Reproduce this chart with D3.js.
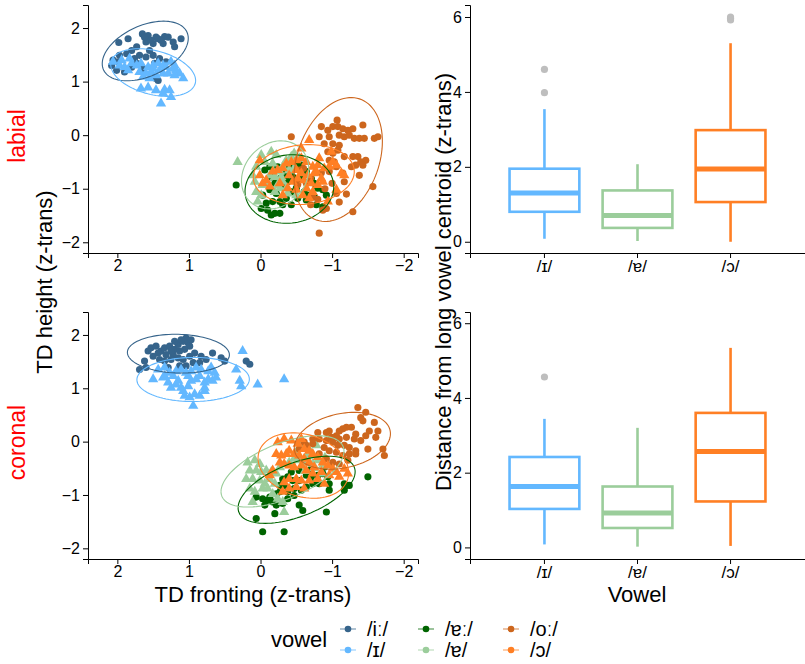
<!DOCTYPE html>
<html>
<head>
<meta charset="utf-8">
<script src="https://cdnjs.cloudflare.com/ajax/libs/d3/7.8.5/d3.min.js"></script>
<style>
  body { margin: 0; background: #fff; }
  svg { font-family: "Liberation Sans", Arial, Helvetica, sans-serif; }
  .axis path, .axis line { stroke: #000; stroke-width: 1; }
</style>
</head>
<body>
<div id="chart"></div>
<script>
// vowel categories (long / short pairs)
var vowels = ["/iː/", "/ɪ/", "/ɐː/", "/ɐ/", "/oː/", "/ɔ/"];
var vowelColors = ["#36648B", "#63B8FF", "#006400", "#9BCD9B", "#CD661D", "#FF7F24"];
var shortVowels = ["/ɪ/", "/ɐ/", "/ɔ/"];
var shortColors = ["#63B8FF", "#9BCD9B", "#FF7F24"];
var places = ["labial", "coronal"];

// TD fronting / height per token, labial context
var labial_iL = [[1.98,1.73],[1.85,1.80],[1.65,1.89],[1.57,1.86],[1.46,1.83],[1.34,1.84],[1.22,1.74],[1.11,1.80],[1.36,1.71],[1.50,1.71],[1.60,1.74],[1.73,1.65],[1.80,1.58],[1.87,1.52],[1.97,1.49],[2.06,1.40],[2.08,1.30],[2.01,1.21],[1.90,1.18],[1.80,1.27],[1.69,1.49],[1.60,1.46],[1.50,1.49],[1.41,1.43],[1.32,1.37],[1.73,1.34],[1.64,1.24],[1.46,1.06],[1.43,1.02],[1.99,1.37],[1.76,1.43],[1.55,1.58],[1.20,1.65],[1.43,1.80],[1.39,1.77],[1.29,1.83],[1.62,1.83],[1.53,1.77],[1.48,1.34]];
var labial_iS = [[2.06,1.37],[1.97,1.30],[1.90,1.27],[1.85,1.21],[1.80,1.34],[1.73,1.30],[1.67,1.34],[1.57,1.27],[1.50,1.30],[1.43,1.34],[1.36,1.30],[1.32,1.27],[1.25,1.37],[1.22,1.24],[1.18,1.21],[1.13,1.15],[1.08,1.06],[1.64,1.09],[1.55,1.06],[1.46,1.12],[1.36,1.15],[1.29,1.15],[1.67,0.87],[1.57,0.89],[1.46,0.84],[1.34,0.85],[1.27,0.84],[1.25,0.71],[1.36,0.78],[1.39,0.59],[1.94,1.40],[1.83,1.43],[1.69,1.18],[1.53,1.18],[1.41,1.21],[1.20,1.30],[1.20,1.12],[1.60,1.15],[1.50,1.24]];
var labial_aL = [[0.34,-0.93],[-0.06,-0.65],[-0.13,-0.59],[-0.24,-0.59],[-0.33,-0.65],[-0.40,-0.56],[-0.50,-0.53],[-0.57,-0.56],[-0.64,-0.68],[-0.71,-0.81],[-0.75,-0.90],[-0.80,-0.99],[-0.87,-1.02],[-0.92,-1.12],[-0.75,-1.15],[-0.68,-1.12],[-0.61,-1.06],[-0.50,-0.99],[-0.43,-1.06],[-0.36,-1.18],[-0.27,-1.24],[-0.17,-1.24],[-0.08,-1.27],[-0.10,-1.40],[-0.15,-1.49],[-0.20,-1.46],[-0.27,-1.46],[-0.01,-1.37],[-0.03,-1.12],[-0.13,-1.02],[-0.22,-1.09],[-0.31,-0.93],[-0.38,-0.87],[-0.50,-0.87],[-0.57,-0.81],[-0.45,-0.78],[-0.36,-0.78],[-0.27,-0.81],[-0.20,-0.90],[-0.15,-0.78],[-0.87,-1.34],[-0.78,-1.30],[-0.64,-1.21],[-0.52,-1.18],[-0.43,-1.30],[-0.31,-1.30]];
var labial_aS = [[0.32,-0.50],[-0.01,-0.37],[-0.15,-0.31],[-0.22,-0.37],[-0.06,-0.50],[0.06,-0.59],[0.11,-0.75],[0.08,-0.87],[0.06,-1.06],[-0.01,-1.12],[0.04,-1.24],[-0.13,-0.75],[-0.20,-0.78],[-0.27,-0.68],[-0.29,-0.78],[-0.31,-0.87],[-0.36,-0.99],[-0.27,-0.99],[-0.20,-1.06],[-0.24,-0.93],[-0.40,-0.65],[-0.47,-0.62],[-0.54,-0.43],[-0.43,-0.40],[-0.36,-0.47],[-0.47,-0.34],[-0.10,-0.90],[-0.03,-0.93],[-0.31,-0.59],[-0.38,-1.09],[-0.50,-1.12],[-0.17,-0.53]];
var labial_oL = [[-1.07,0.28],[-1.01,0.16],[-1.08,0.16],[-1.15,0.12],[-1.22,0.09],[-1.29,0.12],[-0.85,0.16],[-0.94,0.09],[-1.10,0.0],[-1.17,-0.03],[-1.24,0.0],[-1.31,-0.06],[-1.38,-0.06],[-1.45,-0.06],[-1.43,0.19],[-1.59,-0.06],[-1.64,-0.03],[-0.43,-0.03],[-0.82,-0.03],[-0.96,-0.03],[-0.89,-0.16],[-1.01,-0.16],[-1.10,-0.19],[-0.94,-0.31],[-1.01,-0.34],[-1.08,-0.28],[-0.96,-0.47],[-1.03,-0.50],[-1.17,-0.40],[-1.29,-0.40],[-1.36,-0.40],[-1.40,-0.50],[-1.47,-0.47],[-1.43,-0.56],[-1.33,-0.56],[-1.27,-0.59],[-1.15,-0.71],[-0.96,-0.68],[-1.06,-0.59],[-1.38,-0.75],[-1.17,-0.87],[-1.57,-0.96],[-1.06,-1.09],[-0.87,-1.40],[-1.29,-1.43],[-0.82,-1.83],[-0.92,-1.37],[-0.73,-1.15],[-0.64,-0.90],[-0.54,-0.65],[-0.70,-0.80],[-0.90,-1.00],[-0.60,-0.62],[-1.00,-0.90],[-0.80,-1.20],[-0.52,-0.92],[-1.20,-1.10],[-0.70,-1.30],[-0.85,-0.70],[-1.10,-1.25]];
var labial_oS = [[0.01,-0.47],[-0.57,-0.25],[-0.68,-0.09],[-0.82,-0.43],[-0.99,-0.31],[-1.01,-0.50],[-1.06,-0.56],[-1.13,-0.71],[-1.17,-0.75],[-0.96,-0.59],[-0.89,-0.62],[-0.80,-0.56],[-0.73,-0.59],[-0.64,-0.50],[-0.57,-0.43],[-0.50,-0.47],[-0.43,-0.50],[-0.36,-0.53],[-0.31,-0.62],[-0.24,-0.65],[-0.17,-0.68],[-0.57,-0.71],[-0.66,-0.75],[-0.75,-0.71],[-0.85,-0.81],[-0.80,-0.93],[-0.71,-0.90],[-0.61,-0.84],[-0.52,-0.81],[-0.45,-0.87],[-0.38,-0.99],[-0.50,-1.02],[-0.59,-1.12],[-0.31,-1.12],[-0.13,-0.96],[-0.03,-0.90],[0.01,-0.75],[-0.08,-0.84],[-1.06,-1.02],[-0.94,-1.24],[-0.68,-1.18],[-0.78,-0.68],[-0.87,-0.87],[-0.50,-0.65],[-0.40,-0.75],[-0.27,-0.90],[-0.64,-0.99],[-0.73,-1.06]];

// coronal context
var coronal_iL = [[1.69,1.35],[1.62,1.51],[1.60,1.39],[1.53,1.76],[1.46,1.79],[1.39,1.70],[1.34,1.76],[1.27,1.79],[1.20,1.73],[1.15,1.82],[1.08,1.88],[1.04,1.94],[1.01,1.85],[0.99,1.79],[1.06,1.73],[1.13,1.70],[1.22,1.63],[1.32,1.63],[1.43,1.66],[1.50,1.60],[1.41,1.54],[1.34,1.51],[1.25,1.54],[1.15,1.57],[1.08,1.54],[0.99,1.60],[0.92,1.66],[0.83,1.60],[0.76,1.54],[0.67,1.66],[0.55,1.57],[0.50,1.51],[0.94,1.48],[0.85,1.48],[1.04,1.42],[1.13,1.42],[1.29,1.39],[0.20,1.51],[0.15,1.45],[1.20,1.88],[1.11,1.91],[1.25,1.70],[1.57,1.70],[0.97,1.91]];
var coronal_iS = [[1.43,1.35],[1.34,1.39],[1.27,1.29],[1.18,1.32],[1.11,1.35],[1.04,1.29],[0.97,1.32],[0.90,1.39],[0.83,1.35],[0.73,1.32],[0.69,1.39],[0.64,1.29],[1.50,1.17],[1.36,1.20],[1.29,1.11],[1.25,1.01],[1.18,1.07],[1.11,1.01],[1.01,1.04],[0.97,1.14],[0.90,1.17],[0.78,1.11],[0.73,1.17],[0.67,1.14],[0.62,1.20],[1.06,0.86],[0.99,0.83],[0.92,0.89],[0.85,0.86],[0.78,0.95],[1.08,0.95],[0.94,0.67],[0.34,1.35],[0.29,1.14],[0.27,1.04],[0.25,1.70],[0.04,1.07],[-0.33,1.17],[0.78,1.01],[1.15,1.14],[1.34,1.23],[0.85,1.23],[1.01,1.23],[1.22,1.23]];
var coronal_aL = [[0.06,-1.04],[-0.03,-1.07],[-0.10,-1.10],[-0.17,-1.13],[-0.22,-1.19],[-0.31,-1.16],[-0.38,-1.07],[-0.47,-1.01],[-0.54,-1.19],[-0.59,-1.29],[-0.27,-0.94],[-0.33,-0.82],[-0.38,-0.66],[-0.43,-0.57],[-0.54,-0.54],[-0.64,-0.63],[-0.71,-0.66],[-0.80,-0.63],[-0.87,-0.60],[-0.94,-0.66],[-0.96,-0.79],[-0.96,-0.91],[-0.92,-1.32],[-1.17,-0.79],[-1.17,-0.91],[-1.24,-0.82],[-1.50,-0.66],[-0.82,-0.79],[-0.73,-0.79],[-0.64,-0.85],[-0.57,-0.91],[-0.47,-0.88],[-0.38,-0.94],[-0.31,-0.70],[-0.27,-0.82],[-0.22,-0.98],[-0.03,-1.69],[-0.33,-1.69],[0.06,-1.44],[-0.20,-1.35],[-0.13,-1.04],[-0.06,-1.19],[-0.45,-0.73],[-0.54,-0.73],[-0.71,-0.51],[-0.89,-0.48]];
var coronal_aS = [[0.18,-0.39],[0.08,-0.35],[0.01,-0.42],[0.15,-0.54],[0.06,-0.54],[-0.01,-0.57],[-0.08,-0.54],[-0.15,-0.57],[-0.22,-0.60],[0.20,-0.70],[0.11,-0.70],[0.01,-0.73],[-0.06,-0.79],[0.15,-0.88],[0.08,-0.94],[-0.03,-0.88],[-0.17,-0.98],[-0.24,-1.07],[-0.31,-1.13],[-0.33,-1.32],[0.11,-1.13],[-0.13,-0.70],[-0.27,-0.48],[-0.54,-0.35],[-0.64,-0.29],[-0.73,-0.42],[-0.80,-0.35],[-0.87,-0.45],[-0.66,-0.11],[-0.57,-0.07],[-0.78,-0.07],[-0.40,-0.39],[-0.47,-0.32],[-0.10,-0.88],[-0.20,-0.79],[-0.60,-0.40],[-0.75,-0.50],[-0.90,-0.30],[-0.50,-0.20],[-0.70,-0.25],[-0.85,-0.60],[-0.95,-0.45],[-0.62,-0.55]];
var coronal_oL = [[-1.36,0.64],[-1.47,0.55],[-1.40,0.45],[-1.43,0.39],[-1.59,0.36],[-1.52,0.20],[-1.64,0.20],[-1.61,0.08],[-1.47,0.11],[-1.33,0.14],[-1.27,0.27],[-1.20,0.27],[-1.15,0.24],[-1.10,0.20],[-1.06,0.11],[-0.99,0.08],[-0.96,0.20],[-0.92,0.17],[-1.10,0.05],[-1.20,0.08],[-1.31,0.05],[-1.40,0.02],[-1.50,-0.14],[-1.33,-0.17],[-1.24,-0.11],[-1.17,-0.07],[-1.08,-0.07],[-1.01,-0.01],[-0.92,0.02],[-0.82,0.05],[-0.89,-0.11],[-0.96,-0.17],[-1.06,-0.20],[-1.15,-0.26],[-1.24,-0.23],[-1.33,-0.23],[-1.71,-0.14],[-1.73,-0.26],[-0.73,-0.04],[-0.64,-0.07],[-0.54,-0.14],[-0.82,-0.23],[-0.92,-0.32],[-1.01,-0.39],[-1.10,-0.42],[-1.22,-0.35],[-0.73,0.05],[-0.80,0.17],[-0.61,-0.01]];
var coronal_oS = [[-0.24,-0.01],[-0.33,0.05],[-0.43,0.02],[-0.52,-0.04],[-0.57,0.05],[-0.61,-0.14],[-0.68,-0.17],[-0.73,-0.23],[-0.80,-0.29],[-0.87,-0.39],[-0.94,-0.45],[-1.01,-0.51],[-1.06,-0.57],[-0.96,-0.63],[-0.85,-0.57],[-0.75,-0.48],[-0.68,-0.39],[-0.61,-0.32],[-0.54,-0.26],[-0.47,-0.23],[-0.40,-0.17],[-0.36,-0.23],[-0.29,-0.26],[-0.22,-0.23],[-0.27,-0.39],[-0.33,-0.42],[-0.40,-0.45],[-0.47,-0.48],[-0.57,-0.45],[-0.64,-0.54],[-0.73,-0.60],[-0.80,-0.70],[-0.68,-0.73],[-0.57,-0.73],[-0.50,-0.70],[-0.40,-0.70],[-0.33,-0.76],[-0.40,-0.88],[-0.31,-0.94],[-0.50,-0.85],[-0.17,-0.54],[-0.13,-0.63],[-1.17,-0.51],[-1.22,-0.60],[-1.10,-0.66],[-0.89,-0.79],[-0.61,-0.88]];

// distance from long vowel centroid: [lower whisker, q1, median, q3, upper whisker]
var labialBox = [[0.08,0.80,1.30,1.95,3.54],[0.02,0.37,0.70,1.37,2.07],[0.0,1.06,1.94,2.98,5.30]];
var labialOut = [[3.98,4.60],[],[5.92,5.96,6.0]];
var coronalBox = [[0.08,1.03,1.63,2.42,3.44],[0.02,0.52,0.92,1.63,3.20],[0.04,1.23,2.57,3.60,5.34]];
var coronalOut = [[4.56],[],[]];

var xTicks = [2, 1, 0, -1, -2];
var yTicks = [-2, -1, 0, 1, 2];
var distTicks = [0, 2, 4, 6];

var scatterData = {
  labial: [labial_iL, labial_iS, labial_aL, labial_aS, labial_oL, labial_oS],
  coronal: [coronal_iL, coronal_iS, coronal_aL, coronal_aS, coronal_oL, coronal_oS]
};
var boxData = { labial: [labialBox, labialOut], coronal: [coronalBox, coronalOut] };

var W = 805, H = 664;
var FONT = '"Liberation Sans", Arial, Helvetica, sans-serif';
var svg = d3.select("#chart").append("svg").attr("width", W).attr("height", H);

var panelRows = [{top: 5, bottom: 253}, {top: 312, bottom: 559}];
var fmt = function(d){ return d < 0 ? "\u2212" + Math.abs(d) : d; };

function styleAxis(sel, size){
  sel.attr("font-family", FONT);
  sel.selectAll("text").attr("font-size", size || 16).attr("fill", "#000");
}

// robust t scatter (like MASS::cov.trob, nu = 5)
function covTrob(pts){
  var n = pts.length, nu = 5, p = 2;
  var w = pts.map(function(){ return 1; });
  var loc = [d3.mean(pts, function(d){ return d[0]; }), d3.mean(pts, function(d){ return d[1]; })];
  var X;
  for (var it = 0; it < 50; it++){
    var w0 = w.slice();
    X = pts.map(function(d){ return [d[0]-loc[0], d[1]-loc[1]]; });
    var sw = d3.sum(w), a = 0, b = 0, c = 0;
    X.forEach(function(v, i){ a += w[i]*v[0]*v[0]; b += w[i]*v[0]*v[1]; c += w[i]*v[1]*v[1]; });
    a /= sw; b /= sw; c /= sw;
    var det = a*c - b*b;
    w = X.map(function(v){
      var Q = (c*v[0]*v[0] - 2*b*v[0]*v[1] + a*v[1]*v[1]) / det;
      return (nu + p) / (nu + Q);
    });
    var sw2 = d3.sum(w);
    loc = [d3.sum(pts, function(d, i){ return w[i]*d[0]; })/sw2, d3.sum(pts, function(d, i){ return w[i]*d[1]; })/sw2];
    var done = w.every(function(v, i){ return Math.abs(v - w0[i]) < 1e-4; });
    if (done) break;
  }
  var sxx = 0, sxy = 0, syy = 0;
  X.forEach(function(v, i){ sxx += w[i]*v[0]*v[0]; sxy += w[i]*v[0]*v[1]; syy += w[i]*v[1]*v[1]; });
  return {center: loc, cov: [sxx/n, sxy/n, syy/n]};
}

// stat_ellipse style: 95% ellipse, radius from F(2, n-1)
function ellipse(pts){
  var n = pts.length, est = covTrob(pts);
  var mx = est.center[0], my = est.center[1];
  var sxx = est.cov[0], sxy = est.cov[1], syy = est.cov[2];
  var df = n - 1;
  var q = df/2 * (Math.pow(0.05, -2/df) - 1);
  var r = Math.sqrt(2*q);
  var a = Math.sqrt(sxx), b = sxy/a, c = Math.sqrt(syy - b*b);
  return d3.range(0, 101).map(function(i){
    var t = i/100*2*Math.PI;
    return [mx + r*a*Math.cos(t), my + r*(b*Math.cos(t) + c*Math.sin(t))];
  });
}

places.forEach(function(place, pi){
  var row = panelRows[pi];

  // scatter panel
  var x = d3.scaleLinear().domain([2.41, -2.2]).range([88, 418]);
  var y = d3.scaleLinear().domain([-2.2, 2.43]).range([row.bottom, row.top]);

  var g = svg.append("g");
  var groups = scatterData[place];
  groups.forEach(function(pts, vi){
    var isShort = vi % 2 === 1;
    var sym = d3.symbol().type(isShort ? d3.symbolTriangle : d3.symbolCircle).size(isShort ? 46 : 40);
    g.selectAll(".pt" + vi).data(pts).enter().append("path")
      .attr("d", sym)
      .attr("transform", function(d){ return "translate(" + x(d[0]) + "," + y(d[1]) + ")"; })
      .attr("fill", vowelColors[vi]);
  });
  var line = d3.line().x(function(d){ return x(d[0]); }).y(function(d){ return y(d[1]); });
  groups.forEach(function(pts, vi){
    g.append("path").attr("d", line(ellipse(pts)))
      .attr("fill", "none").attr("stroke", vowelColors[vi]).attr("stroke-width", 1.1);
  });

  svg.append("g").attr("class", "axis")
    .attr("transform", "translate(0," + row.bottom + ")")
    .call(d3.axisBottom(x).tickValues(xTicks).tickFormat(fmt).tickSizeOuter(0).tickSize(5).tickPadding(2))
    .call(styleAxis);
  svg.append("g").attr("class", "axis")
    .attr("transform", "translate(88,0)")
    .call(d3.axisLeft(y).tickValues(yTicks).tickFormat(fmt).tickSizeOuter(0).tickSize(5).tickPadding(3))
    .call(styleAxis);

  // place label
  svg.append("text")
    .attr("transform", "translate(25," + ((row.top + row.bottom)/2 + 7) + ") rotate(-90)")
    .attr("text-anchor", "middle").attr("font-size", 23).attr("fill", "#ff0000")
    .text(place);

  // boxplot panel
  var bx = d3.scaleBand().domain(shortVowels).range([470, 805]).paddingOuter(0.3).paddingInner(0);
  var by = d3.scaleLinear().domain(pi === 0 ? [-0.3, 6.32] : [-0.31, 6.3]).range([row.bottom, row.top]);
  var stats = boxData[place][0], outs = boxData[place][1];
  var bw = bx.bandwidth() * 0.75;
  var bg = svg.append("g");
  shortVowels.forEach(function(v, i){
    var s = stats[i], cx = bx(v) + bx.bandwidth()/2, col = shortColors[i];
    bg.append("line").attr("x1", cx).attr("x2", cx).attr("y1", by(s[0])).attr("y2", by(s[1]))
      .attr("stroke", col).attr("stroke-width", 2.6);
    bg.append("line").attr("x1", cx).attr("x2", cx).attr("y1", by(s[3])).attr("y2", by(s[4]))
      .attr("stroke", col).attr("stroke-width", 2.6);
    bg.append("rect").attr("x", cx - bw/2).attr("width", bw)
      .attr("y", by(s[3])).attr("height", by(s[1]) - by(s[3]))
      .attr("fill", "#fff").attr("stroke", col).attr("stroke-width", 2.6);
    bg.append("line").attr("x1", cx - bw/2).attr("x2", cx + bw/2).attr("y1", by(s[2])).attr("y2", by(s[2]))
      .attr("stroke", col).attr("stroke-width", 5);
    bg.selectAll(".out" + i).data(outs[i]).enter().append("circle")
      .attr("cx", cx).attr("cy", function(d){ return by(d); }).attr("r", 3.6)
      .attr("fill", "#bebebe");
  });
  svg.append("g").attr("class", "axis")
    .attr("transform", "translate(0," + row.bottom + ")")
    .call(d3.axisBottom(bx).tickSizeOuter(0).tickSize(5).tickPadding(2))
    .call(styleAxis, 17);
  svg.append("g").attr("class", "axis")
    .attr("transform", "translate(470,0)")
    .call(d3.axisLeft(by).tickValues(distTicks).tickFormat(d3.format("d")).tickSizeOuter(0).tickSize(5).tickPadding(3))
    .call(styleAxis);
});

// axis titles
svg.append("text").attr("x", 253).attr("y", 602).attr("text-anchor", "middle")
  .attr("font-size", 22).text("TD fronting (z-trans)");
svg.append("text").attr("x", 637).attr("y", 602).attr("text-anchor", "middle")
  .attr("font-size", 22).text("Vowel");
svg.append("text").attr("transform", "translate(52,282) rotate(-90)").attr("text-anchor", "middle")
  .attr("font-size", 22).text("TD height (z-trans)");
svg.append("text").attr("transform", "translate(451,282) rotate(-90)").attr("text-anchor", "middle")
  .attr("font-size", 22).text("Distance from long vowel centroid (z-trans)");

// legend
var legend = svg.append("g");
legend.append("text").attr("x", 271).attr("y", 647).attr("font-size", 22).text("vowel");
var colX = [348, 426, 511];
vowels.forEach(function(v, i){
  var cx = colX[Math.floor(i/2)], cy = i % 2 === 0 ? 629 : 650;
  legend.append("line").attr("x1", cx - 8).attr("x2", cx + 8).attr("y1", cy).attr("y2", cy)
    .attr("stroke", vowelColors[i]).attr("stroke-width", 1.1).attr("opacity", 0.7);
  legend.append("circle").attr("cx", cx).attr("cy", cy).attr("r", 3.3).attr("fill", vowelColors[i]);
  legend.append("text").attr("x", cx + 19).attr("y", cy + 7).attr("font-size", 20).text(v);
});
</script>
</body>
</html>
